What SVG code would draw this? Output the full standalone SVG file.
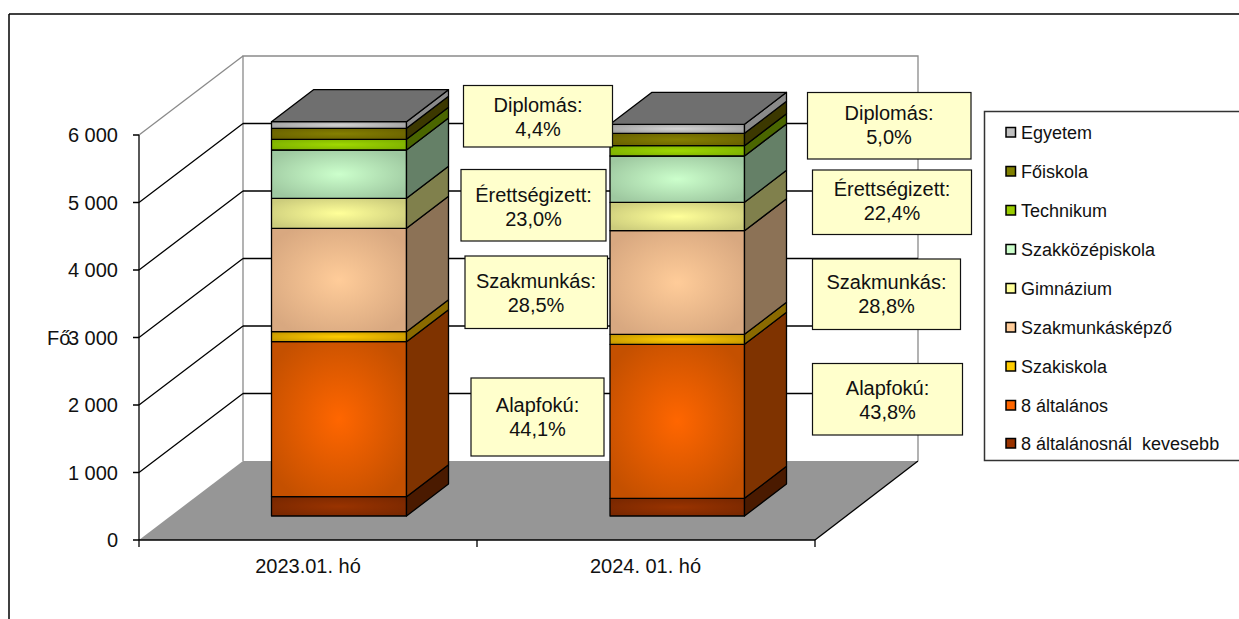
<svg xmlns="http://www.w3.org/2000/svg" width="1239" height="619" viewBox="0 0 1239 619">
<style>
text{font-family:"Liberation Sans",Arial,sans-serif;fill:#111}
.ax{font-size:20px;text-anchor:end}
.cat{font-size:20px;text-anchor:middle}
.lbl{font-size:20px;text-anchor:middle}
.lg{font-size:18px}
.box{fill:#ffffcc;stroke:#111;stroke-width:1.2}
.grid{stroke:#000;stroke-width:1.3;fill:none}
.wall{stroke:#8a8a8a;stroke-width:1.3;fill:none}
.seg{stroke:#000;stroke-width:1.3;stroke-linejoin:round}
.sq{stroke:#000;stroke-width:1.5}
</style>
<defs>
<radialGradient id="gEgy" cx="0.5" cy="0.5" r="0.6"><stop offset="0" stop-color="#d4d4d4"/><stop offset="1" stop-color="#a0a0a0"/></radialGradient>
<radialGradient id="gFo" cx="0.5" cy="0.5" r="0.6"><stop offset="0" stop-color="#858000"/><stop offset="1" stop-color="#6a6200"/></radialGradient>
<radialGradient id="gTech" cx="0.5" cy="0.5" r="0.6"><stop offset="0" stop-color="#9fd800"/><stop offset="1" stop-color="#7eb000"/></radialGradient>
<radialGradient id="gSzk" cx="0.5" cy="0.5" r="0.6"><stop offset="0" stop-color="#ccffcc"/><stop offset="1" stop-color="#9ec8a0"/></radialGradient>
<radialGradient id="gGim" cx="0.5" cy="0.5" r="0.6"><stop offset="0" stop-color="#ffff99"/><stop offset="1" stop-color="#cccc7c"/></radialGradient>
<radialGradient id="gSzm" cx="0.5" cy="0.5" r="0.6"><stop offset="0" stop-color="#ffcc99"/><stop offset="1" stop-color="#d8a880"/></radialGradient>
<radialGradient id="gSzi" cx="0.5" cy="0.5" r="0.6"><stop offset="0" stop-color="#ffcc00"/><stop offset="1" stop-color="#c89a00"/></radialGradient>
<radialGradient id="g8" cx="0.5" cy="0.5" r="0.6"><stop offset="0" stop-color="#ff6600"/><stop offset="1" stop-color="#c45000"/></radialGradient>
<radialGradient id="gKev" cx="0.5" cy="0.5" r="0.6"><stop offset="0" stop-color="#993300"/><stop offset="1" stop-color="#7a2800"/></radialGradient>
</defs>

<g id="frame">
<line x1="9" y1="14" x2="1239" y2="14" stroke="#000" stroke-width="1.5"/>
<line x1="9" y1="14" x2="9" y2="619" stroke="#000" stroke-width="1.5"/>
</g>

<g id="plot-area">
<polygon points="139,540 243,461 918,461 815,540" fill="#969696"/>
<line x1="815" y1="540" x2="918" y2="461" stroke="#000" stroke-width="1.3"/>
<path class="wall" d="M243,461 V56 H918 V461"/>
<line x1="139" y1="135" x2="243" y2="56" class="wall"/>
</g>

<g id="connectors">
<path class="grid" d="M243,393.5H918 M243,326H918 M243,258.5H918 M243,191H918 M243,123.5H918"/>
<path class="grid" d="M139,472.5L243,393.5 M139,405L243,326 M139,337.5L243,258.5 M139,270L243,191 M139,202.5L243,123.5"/>
<path class="grid" d="M139,135V540 M133,135H139 M133,202.5H139 M133,270H139 M133,337.5H139 M133,405H139 M133,472.5H139 M133,540H139"/>
<path class="grid" d="M139,540H815 M139,540V547 M477,540V547 M815,540V547"/>
</g>

<g id="axis-labels">
<text class="ax" x="118" y="142">6 000</text>
<text class="ax" x="118" y="209.5">5 000</text>
<text class="ax" x="118" y="277">4 000</text>
<text class="ax" x="118" y="344.5">3 000</text>
<text class="ax" x="118" y="412">2 000</text>
<text class="ax" x="118" y="479.5">1 000</text>
<text class="ax" x="118" y="547">0</text>
<text x="47" y="344.5" style="font-size:20px">Fő</text>
<text class="cat" x="308" y="572.5">2023.01. hó</text>
<text class="cat" x="645.5" y="572.5">2024. 01. hó</text>
</g>

<g id="bar-2023">
<rect class="seg" x="271.5" y="496.7" width="135" height="19.3" fill="url(#gKev)"/>
<polygon class="seg" points="406.5,516 448.5,484 448.5,464.7 406.5,496.7" fill="#4a1a00"/>
<rect class="seg" x="271.5" y="341.7" width="135" height="155" fill="url(#g8)"/>
<polygon class="seg" points="406.5,496.7 448.5,464.7 448.5,309.7 406.5,341.7" fill="#7f3300"/>
<rect class="seg" x="271.5" y="331.7" width="135" height="10" fill="url(#gSzi)"/>
<polygon class="seg" points="406.5,341.7 448.5,309.7 448.5,299.7 406.5,331.7" fill="#8a6a00"/>
<rect class="seg" x="271.5" y="228.3" width="135" height="103.4" fill="url(#gSzm)"/>
<polygon class="seg" points="406.5,331.7 448.5,299.7 448.5,196.3 406.5,228.3" fill="#8c7256"/>
<rect class="seg" x="271.5" y="198.3" width="135" height="30" fill="url(#gGim)"/>
<polygon class="seg" points="406.5,228.3 448.5,196.3 448.5,166.3 406.5,198.3" fill="#80804c"/>
<rect class="seg" x="271.5" y="150" width="135" height="48.3" fill="url(#gSzk)"/>
<polygon class="seg" points="406.5,198.3 448.5,166.3 448.5,118 406.5,150" fill="#658067"/>
<rect class="seg" x="271.5" y="139.3" width="135" height="10.7" fill="url(#gTech)"/>
<polygon class="seg" points="406.5,150 448.5,118 448.5,107.3 406.5,139.3" fill="#4a6600"/>
<rect class="seg" x="271.5" y="128.3" width="135" height="11" fill="url(#gFo)"/>
<polygon class="seg" points="406.5,139.3 448.5,107.3 448.5,96.3 406.5,128.3" fill="#3c3800"/>
<rect class="seg" x="271.5" y="121.7" width="135" height="6.6" fill="url(#gEgy)"/>
<polygon class="seg" points="406.5,128.3 448.5,96.3 448.5,89.7 406.5,121.7" fill="#8a8a8a"/>
<polygon class="seg" points="271.5,121.7 313.5,89.7 448.5,89.7 406.5,121.7" fill="#6f6f6f"/>
</g>

<g id="bar-2024">
<rect class="seg" x="610" y="498.3" width="134.5" height="17.7" fill="url(#gKev)"/>
<polygon class="seg" points="744.5,516 786.5,484 786.5,466.3 744.5,498.3" fill="#4a1a00"/>
<rect class="seg" x="610" y="344.3" width="134.5" height="154" fill="url(#g8)"/>
<polygon class="seg" points="744.5,498.3 786.5,466.3 786.5,312.3 744.5,344.3" fill="#7f3300"/>
<rect class="seg" x="610" y="334.3" width="134.5" height="10" fill="url(#gSzi)"/>
<polygon class="seg" points="744.5,344.3 786.5,312.3 786.5,302.3 744.5,334.3" fill="#8a6a00"/>
<rect class="seg" x="610" y="230.7" width="134.5" height="103.6" fill="url(#gSzm)"/>
<polygon class="seg" points="744.5,334.3 786.5,302.3 786.5,198.7 744.5,230.7" fill="#8c7256"/>
<rect class="seg" x="610" y="202.3" width="134.5" height="28.4" fill="url(#gGim)"/>
<polygon class="seg" points="744.5,230.7 786.5,198.7 786.5,170.3 744.5,202.3" fill="#80804c"/>
<rect class="seg" x="610" y="156" width="134.5" height="46.3" fill="url(#gSzk)"/>
<polygon class="seg" points="744.5,202.3 786.5,170.3 786.5,124 744.5,156" fill="#658067"/>
<rect class="seg" x="610" y="145.7" width="134.5" height="10.3" fill="url(#gTech)"/>
<polygon class="seg" points="744.5,156 786.5,124 786.5,113.7 744.5,145.7" fill="#4a6600"/>
<rect class="seg" x="610" y="133.3" width="134.5" height="12.4" fill="url(#gFo)"/>
<polygon class="seg" points="744.5,145.7 786.5,113.7 786.5,101.3 744.5,133.3" fill="#3c3800"/>
<rect class="seg" x="610" y="124.3" width="134.5" height="9" fill="url(#gEgy)"/>
<polygon class="seg" points="744.5,133.3 786.5,101.3 786.5,92.3 744.5,124.3" fill="#8a8a8a"/>
<polygon class="seg" points="610,124.3 652,92.3 786.5,92.3 744.5,124.3" fill="#6f6f6f"/>
</g>

<g id="label-2023-diplomas"><rect class="box" x="463.5" y="85.5" width="149" height="61.5"/><text class="lbl" x="538" y="112">Diplomás:</text><text class="lbl" x="538" y="135.5">4,4%</text></g>
<g id="label-2023-erettsegizett"><rect class="box" x="461" y="169.5" width="145" height="71.5"/><text class="lbl" x="533.5" y="202">Érettségizett:</text><text class="lbl" x="533.5" y="225.5">23,0%</text></g>
<g id="label-2023-szakmunkas"><rect class="box" x="465" y="256" width="142.5" height="72.5"/><text class="lbl" x="536" y="287.5">Szakmunkás:</text><text class="lbl" x="536" y="311.5">28,5%</text></g>
<g id="label-2023-alapfoku"><rect class="box" x="471" y="378" width="133" height="78"/><text class="lbl" x="537.5" y="412">Alapfokú:</text><text class="lbl" x="537.5" y="435.5">44,1%</text></g>

<g id="label-2024-diplomas"><rect class="box" x="807.5" y="92.5" width="163.5" height="66.5"/><text class="lbl" x="889" y="119.5">Diplomás:</text><text class="lbl" x="889" y="143.5">5,0%</text></g>
<g id="label-2024-erettsegizett"><rect class="box" x="812.5" y="170" width="159" height="64.5"/><text class="lbl" x="892" y="195.5">Érettségizett:</text><text class="lbl" x="892" y="219.5">22,4%</text></g>
<g id="label-2024-szakmunkas"><rect class="box" x="812.5" y="259" width="148" height="70.5"/><text class="lbl" x="886.5" y="288.5">Szakmunkás:</text><text class="lbl" x="886.5" y="313">28,8%</text></g>
<g id="label-2024-alapfoku"><rect class="box" x="812.5" y="363.5" width="150" height="71.5"/><text class="lbl" x="887.5" y="395">Alapfokú:</text><text class="lbl" x="887.5" y="418.5">43,8%</text></g>

<g id="legend">
<rect x="984.5" y="111.5" width="270" height="349" fill="#fff" stroke="#333" stroke-width="1.5"/>
<rect class="sq" x="1006" y="127.5" width="9.5" height="9.5" fill="#c0c0c0"/><text class="lg" x="1021" y="138.5">Egyetem</text>
<rect class="sq" x="1006" y="166.5" width="9.5" height="9.5" fill="#808000"/><text class="lg" x="1021" y="177.5">Főiskola</text>
<rect class="sq" x="1006" y="205.5" width="9.5" height="9.5" fill="#99cc00"/><text class="lg" x="1021" y="216.5">Technikum</text>
<rect class="sq" x="1006" y="244.5" width="9.5" height="9.5" fill="#ccffcc"/><text class="lg" x="1021" y="255.5">Szakközépiskola</text>
<rect class="sq" x="1006" y="283.5" width="9.5" height="9.5" fill="#ffff99"/><text class="lg" x="1021" y="294.5">Gimnázium</text>
<rect class="sq" x="1006" y="322.5" width="9.5" height="9.5" fill="#ffcc99"/><text class="lg" x="1021" y="333.5">Szakmunkásképző</text>
<rect class="sq" x="1006" y="361.5" width="9.5" height="9.5" fill="#ffcc00"/><text class="lg" x="1021" y="372.5">Szakiskola</text>
<rect class="sq" x="1006" y="400.5" width="9.5" height="9.5" fill="#ff6600"/><text class="lg" x="1021" y="411.5">8 általános</text>
<rect class="sq" x="1006" y="438.5" width="9.5" height="9.5" fill="#993300"/><text class="lg" x="1021" y="449.5" xml:space="preserve">8 általánosnál  kevesebb</text>
</g>
</svg>
